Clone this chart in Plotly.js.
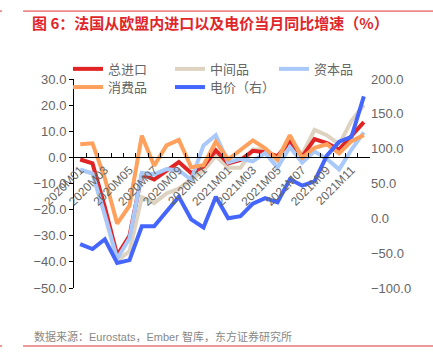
<!DOCTYPE html>
<html>
<head>
<meta charset="utf-8">
<script src="https://cdn.plot.ly/plotly-3.0.1.min.js"></script>
<style>html,body{margin:0;padding:0;background:#fff;}#chart{width:433px;height:353px;}</style>
</head>
<body>
<div id="chart"></div>
<script>
var months = ['2020M01','2020M02','2020M03','2020M04','2020M05','2020M06','2020M07','2020M08','2020M09','2020M10','2020M11','2020M12',
              '2021M01','2021M02','2021M03','2021M04','2021M05','2021M06','2021M07','2021M08','2021M09','2021M10','2021M11','2021M12'];
var totalImports = [-0.8,-2.3,-19,-37.5,-30,-6.5,-8.5,-5,-1.8,-6,-3.5,2.7, -2.3,-1,2.5,2,0.5,6,0.3,7,5.5,3,8,13.5];
var intermediate = [-5,-6,-22,-39.5,-36,-15.2,-17.5,-13.8,-12,-8.5,-5,0.5, -4,-4,3,3,-1.5,7,1,10.5,8.5,5,14,20];
var capitalGoods = [-4.6,-6.2,-22,-38.8,-31,-6,-6.5,-4.5,-5,-8.5,4.6,8.5, -2,-0.5,-1.5,1.7,-4,4,-2,2.3,-0.6,-4.6,3,9.6];
var consumerGoods = [5,5.4,-8,-25.4,-18.5,8.3,-3.2,4.6,6.7,-3.8,-3,6, -0.8,2.7,6.5,3.5,-0.8,8.5,-0.2,3.7,5,1.5,6.2,8.5];
var elecPrice = [-37,-44,-30,-64,-60,-11.4,-11.4,10,31,-1.4,-13,31, 0,3,21,29,23,56,47,53,90,110,117,175];
var seriesNames = ['总进口','中间品','资本品','消费品','电价（右）'];
var tickText = months.map(function(m,i){return i%2===0?m:'';});

var F = 'Liberation Sans, Arial, Noto Sans CJK SC, sans-serif';
var traces = [
  {x:months,y:intermediate,name:seriesNames[1],type:'scatter',mode:'lines',line:{color:'#ddd3c0',width:4},legend:'legend2'},
  {x:months,y:totalImports,name:seriesNames[0],type:'scatter',mode:'lines',line:{color:'#e02424',width:4},legend:'legend'},
  {x:months,y:capitalGoods,name:seriesNames[2],type:'scatter',mode:'lines',line:{color:'#a9c9fa',width:4},legend:'legend3'},
  {x:months,y:consumerGoods,name:seriesNames[3],type:'scatter',mode:'lines',line:{color:'#ffa05c',width:4},legend:'legend4'},
  {x:months,y:elecPrice,name:seriesNames[4],type:'scatter',mode:'lines',line:{color:'#4466ff',width:4},yaxis:'y2',legend:'legend5'}
];
function leg(px, row){
  return {orientation:'h',x:(px-82)/296,xanchor:'left',y:row===1?1.12:1.033,yanchor:'top',bgcolor:'rgba(0,0,0,0)',
          font:{family:F,size:13,color:'#666'},itemwidth:30};
}
var layout = {
  width:433,height:353,
  margin:{l:74,r:63,t:79,b:65},
  paper_bgcolor:'#fff',plot_bgcolor:'#fff',
  font:{family:F,size:13,color:'#666'},
  title:{text:'<b>图 6：法国从欧盟内进口以及电价当月同比增速（%）</b>',font:{family:'Noto Sans CJK SC, sans-serif',size:15,color:'#e0262a'},
         xref:'container',yref:'container',x:0.074,xanchor:'left',y:0.932,yanchor:'middle'},
  showlegend:true,
  legend:leg(76,1), legend2:leg(178,1), legend3:leg(282,1), legend4:leg(76,2), legend5:leg(178,2),
  xaxis:{type:'category',anchor:'free',position:0.625,range:[-0.5,23.5],
         tickmode:'array',tickvals:months,ticktext:tickText,tickangle:-45,tickson:'boundaries',
         ticks:'inside',ticklen:4,tickcolor:'#000',showline:true,linecolor:'#000',linewidth:1,
         showgrid:false,zeroline:false,tickfont:{family:F,size:12,color:'#666'}},
  yaxis:{range:[-50,30],dtick:10,tickformat:'.1f',showline:true,linecolor:'#000',linewidth:1,
         ticks:'outside',ticklen:4,tickcolor:'#000',showgrid:false,zeroline:false,tickfont:{family:F,size:13,color:'#666'}},
  yaxis2:{overlaying:'y',side:'right',range:[-100,200],dtick:50,tickformat:'.1f',showline:false,
         ticks:'',showgrid:false,zeroline:false,tickfont:{family:F,size:13,color:'#666'}},
  shapes:[
    {type:'line',xref:'paper',yref:'paper',x0:-0.172,x1:1.22,y0:1.325,y1:1.325,line:{color:'#e03030',width:1}},
    {type:'line',xref:'paper',yref:'paper',x0:-0.25,x1:-0.243,y0:1.325,y1:1.325,line:{color:'#e03030',width:1}},
    {type:'line',xref:'paper',yref:'paper',x0:-0.172,x1:1.22,y0:-0.2775,y1:-0.2775,line:{color:'#e03030',width:1}},
    {type:'line',xref:'paper',yref:'paper',x0:-0.25,x1:-0.243,y0:-0.2775,y1:-0.2775,line:{color:'#e03030',width:1}}
  ],
  annotations:[
    {text:'数据来源：Eurostats，Ember 智库，东方证券研究所',xref:'paper',yref:'paper',x:(32-74)/296,xanchor:'left',
     y:(288-336)/209,yanchor:'middle',showarrow:false,font:{family:'Liberation Sans, Noto Sans CJK SC, sans-serif',size:11,color:'#888'}}
  ]
};
Plotly.newPlot('chart',traces,layout,{displayModeBar:false,staticPlot:true});
</script>
</body>
</html>
